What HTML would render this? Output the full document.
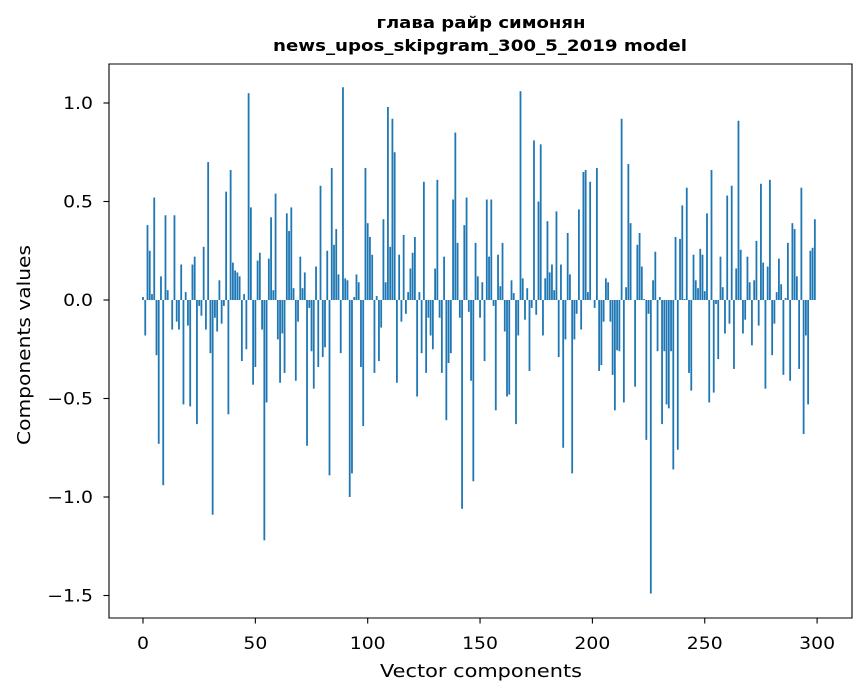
<!DOCTYPE html>
<html><head><meta charset="utf-8"><style>
html,body{margin:0;padding:0;background:#fff;}
svg{display:block;font-family:"DejaVu Sans","Liberation Sans",sans-serif;}
</style></head><body>
<svg id="chart" width="867" height="696" viewBox="0 0 867 696" xmlns="http://www.w3.org/2000/svg">
<rect x="0" y="0" width="867" height="696" fill="#fff"/>
<text id="t1" x="481" y="28" text-anchor="middle" font-size="16" font-weight="bold" fill="#000" textLength="209" lengthAdjust="spacingAndGlyphs">глава райр симонян</text>
<text id="t2" x="480" y="51" text-anchor="middle" font-size="16" font-weight="bold" fill="#000" textLength="414" lengthAdjust="spacingAndGlyphs">news_upos_skipgram_300_5_2019 model</text>
<g id="bars"></g>
<g id="axes"></g>
<text x="481" y="677" text-anchor="middle" font-size="18" fill="#000" textLength="202" lengthAdjust="spacingAndGlyphs">Vector components</text>
<text transform="translate(30,345) rotate(-90)" text-anchor="middle" font-size="18" fill="#000" textLength="200" lengthAdjust="spacingAndGlyphs">Components values</text>
</svg>
<script>
const values = [
0.015,-0.18,0.38,0.25,0.03,0.52,-0.28,-0.73,0.12,-0.94,
0.43,0.05,0,-0.15,0.43,-0.11,-0.15,0.18,-0.53,0.04,
-0.13,-0.54,0.18,0.22,-0.63,-0.03,-0.08,0.27,-0.15,0.70,
-0.27,-1.09,-0.09,-0.16,0.10,-0.12,-0.03,0.55,-0.58,0.66,
0.19,0.15,0.14,0.12,-0.31,0.03,-0.25,1.05,0.47,-0.43,
-0.34,0.20,0.24,-0.15,-1.22,-0.52,0.21,0.42,0.05,0.54,
-0.20,-0.42,-0.17,-0.37,0.44,0.35,0.47,0.06,-0.41,-0.11,
0.22,0.06,0.14,-0.74,-0.04,-0.26,-0.45,0.17,-0.34,0.58,
-0.29,-0.24,0.25,-0.89,0.67,0.28,0.36,0.13,-0.27,1.08,
0.11,0.10,-1.00,-0.88,0.015,0.13,0.09,-0.34,-0.64,0.67,
0.39,0.32,0.23,-0.37,0.02,-0.31,-0.14,0.41,0.09,0.98,
0.27,0.92,0.75,-0.42,0.23,-0.11,0.33,-0.07,0.04,0.16,
0.24,0.32,-0.49,0.04,-0.27,0.60,-0.37,-0.09,-0.18,-0.25,
0.16,0.61,-0.09,-0.37,0.22,-0.61,-0.32,-0.27,0.51,0.85,
0.29,-0.09,-1.06,0.38,0.52,-0.06,-0.41,-0.92,0.29,0.12,
-0.09,0.09,-0.31,0.51,0.22,0.51,-0.03,-0.56,0.23,0.07,
0.29,-0.16,-0.49,-0.48,0.10,0.035,-0.63,-0.18,1.06,0.11,
-0.10,0.06,-0.36,-0.04,0.81,-0.075,0.50,0.79,-0.18,0.11,
0.40,0.14,0.18,0.05,0.45,-0.29,0.18,-0.75,-0.20,0.34,
0.13,-0.88,-0.20,-0.07,0.46,-0.15,0.65,0.66,0.04,0.60,
0,-0.04,0.67,-0.36,-0.33,-0.11,0.11,0.09,-0.11,-0.38,
-0.56,-0.255,-0.26,0.92,-0.52,0.065,0.69,0.39,0,-0.44,
0.28,0.34,0.17,0.005,-0.71,-0.07,-1.49,0.10,0.245,-0.26,
0.015,-0.63,-0.26,-0.53,-0.55,-0.26,-0.86,0.32,-0.76,0.31,
0.48,0.005,0.57,-0.37,-0.46,0.23,0.10,0.06,0.26,0.23,
0.045,0.44,-0.52,0.66,-0.47,-0.02,-0.30,0.22,0.065,-0.17,
0.53,-0.12,0.58,-0.35,0.16,0.91,0.255,-0.17,-0.10,0.22,
0.09,-0.23,0.10,0.30,-0.13,0.59,0.19,-0.45,0.17,0.61,
-0.28,-0.12,0.04,0.21,0.08,-0.38,0.01,0.29,-0.41,0.39,
0.36,0.12,-0.35,0.57,-0.68,-0.18,-0.53,0.25,0.265,0.41
];
const xTicks = [0,50,100,150,200,250,300];
const xTickLabels = ["0","50","100","150","200","250","300"];
const yTicks = [1.0,0.5,0.0,-0.5,-1.0,-1.5];
const yTickLabels = ["1.0","0.5","0.0","\u22120.5","\u22121.0","\u22121.5"];

const NS = "http://www.w3.org/2000/svg";
const L = 109, R = 852, T = 64, B = 618;
const xScale = v => 143 + v * 2.247;
const yScale = v => 300 - v * 197;

const barsG = document.getElementById('bars');
values.forEach((v, i) => {
  const r = document.createElementNS(NS, 'rect');
  const x0 = xScale(i - 0.4), x1 = xScale(i + 0.4);
  const y0 = yScale(Math.max(v, 0)), y1 = yScale(Math.min(v, 0));
  r.setAttribute('x', x0);
  r.setAttribute('y', y0);
  r.setAttribute('width', x1 - x0);
  r.setAttribute('height', Math.max(y1 - y0, 0));
  r.setAttribute('fill', '#1f77b4');
  
  
  barsG.appendChild(r);
});

const axesG = document.getElementById('axes');
function line(x1, y1, x2, y2, name) {
  const l = document.createElementNS(NS, 'line');
  l.setAttribute('x1', x1); l.setAttribute('y1', y1);
  l.setAttribute('x2', x2); l.setAttribute('y2', y2);
  l.setAttribute('stroke', '#000'); l.setAttribute('stroke-width', '1.1');
  l.setAttribute('stroke-linecap', 'square');
  
  
  axesG.appendChild(l);
}
function label(x, y, s, anchor, name) {
  const t = document.createElementNS(NS, 'text');
  t.setAttribute('x', x); t.setAttribute('y', y);
  t.setAttribute('text-anchor', anchor);
  t.setAttribute('font-size', '16.5');
  t.setAttribute('fill', '#000');
  t.textContent = s;
  
  
  axesG.appendChild(t);
  const w = t.getComputedTextLength();
  if (w > 0) {
    t.setAttribute('textLength', (w * 1.14).toFixed(1));
    t.setAttribute('lengthAdjust', 'spacingAndGlyphs');
  }
}
line(L, T, R, T, 'axes-frame-top');
line(L, B, R, B, 'axes-frame-bottom');
line(L, T, L, B, 'axes-frame-left');
line(R, T, R, B, 'axes-frame-right');
xTicks.forEach((v, i) => {
  const x = xScale(v);
  line(x, B, x, B + 5, 'x-tick-' + xTickLabels[i]);
  label(x, B + 31, xTickLabels[i], 'middle', 'x-tick-label-' + xTickLabels[i]);
});
yTicks.forEach((v, i) => {
  const y = yScale(v);
  line(L - 5, y, L, y, 'y-tick-' + i);
  label(L - 16, y + 6, yTickLabels[i], 'end', 'y-tick-label-' + i);
});
</script>
</body></html>
